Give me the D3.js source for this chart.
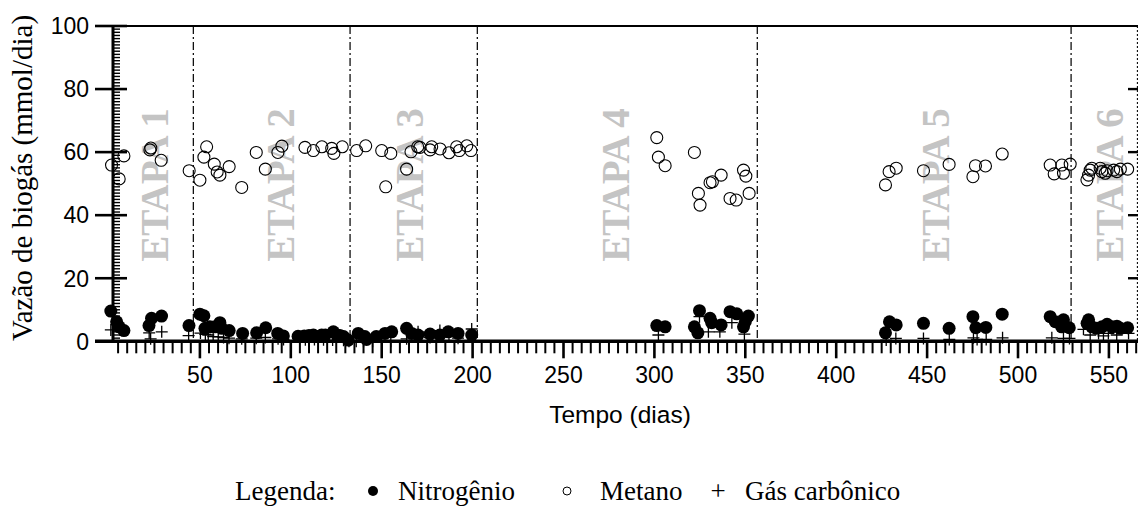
<!DOCTYPE html>
<html>
<head>
<meta charset="utf-8">
<script src="https://cdn.jsdelivr.net/npm/d3@7"></script>
<style>
  body { margin: 0; background: white; }
  svg { display: block; }
</style>
</head>
<body>
<svg width="1138" height="506"></svg>
<script>
// dias e vazões (mmol/dia)
let metano = [
  [1.4,55.9],[5.6,51.5],[8.2,58.8],[22.5,60.7],[23,61.3],[28.7,57.4],[44.1,54.1],[50,51.1],[52.2,58.4],[53.7,61.7],
  [57.9,56.2],[59.5,53.7],[61,52.7],[66.1,55.4],[73,48.8],[81,59.9],[86,54.6],[92.9,59.9],[95.1,61.9],[107.8,61.5],
  [112.4,60.5],[117.1,61.7],[122.5,61.2],[123.7,59.6],[128.3,61.7],[136.2,60.5],[141.2,62.0],[150,60.5],[152.2,49.0],[155,59.6],
  [163.7,54.6],[166.1,60.1],[169.8,61.7],[171,61.5],[176.6,60.7],[177.5,61.7],[182.1,61.0],[187,59.8],[191.2,61.7],[192.7,60.5],
  [196.8,62.0],[199.1,60.5],
  [301.3,64.6],[302.2,58.4],[305.9,55.7],[322,59.9],[324.2,46.9],[325.1,43.2],[330.6,50.3],[331.9,50.6],[336.7,52.7],[341.6,45.3],
  [345,44.8],[349,54.3],[350.3,52.4],[352.1,46.9],
  [427.1,49.6],[429.1,53.8],[433,54.9],[448,54.1],[462.1,56.1],[475.2,52.2],[476.6,55.7],[482.1,55.6],[491.3,59.4],[517.7,55.9],
  [519.9,53.1],[524.1,55.9],[525,53.3],[528.7,56.2],
  [537.9,51.2],[538.8,52.7],[539.7,54.3],[540.6,54.9],[545.2,54.9],[546.1,53.8],[548,53.3],[549,54.1],[552.6,54.3],[554.4,53.8],
  [556.3,54.6],[560.3,54.6]
]

let nitrogenio = [
  [1,9.6],[4.2,6.2],[5.6,4.6],[8.2,3.4],[22,5.0],[23.4,7.3],[28.9,8.0],[44,5.0],[50,8.6],[52.2,8.1],
  [52.8,4.1],[55.5,4.6],[58.3,4.6],[61,5.9],[62,4.1],[66.1,3.4],[73.5,2.5],[81.2,2.7],[86.2,4.3],[92.8,2.5],
  [95.9,1.7],[104,1.6],[107.4,1.7],[110,1.8],[112.4,2.0],[114,1.5],[117,2.0],[119,2.0],[123.4,3.0],[125.3,2.0],
  [127,1.8],[129,1.5],[131.6,0.4],[137.1,2.5],[140.7,1.5],[141.7,0.6],[147,1.5],[151.8,2.5],[155.5,3.0],[163.7,4.1],
  [166.5,2.5],[170,2.0],[176.6,2.3],[182,2.0],[186.6,3.0],[192,2.5],[199.5,2.0],
  [301.3,5.0],[305.9,4.6],[322,4.6],[323.9,2.7],[324.8,9.7],[330.6,7.3],[331.5,5.9],[336.7,5.2],[341.6,9.4],[345.3,8.7],
  [349,4.6],[350,6.2],[351.7,8.0],
  [427.1,2.7],[429.3,6.2],[433,5.2],[448,5.7],[462.1,4.1],[475.2,7.8],[476.8,4.3],[482.3,4.4],[491.3,8.6],[517.7,7.8],
  [520.5,6.2],[524,4.6],[525,6.8],[528.2,4.3],
  [538,5.7],[538.8,6.8],[540.6,4.6],[543.4,4.1],[546.2,4.6],[549,5.4],[551.7,4.6],[554.4,4.8],[556.3,4.1],[560.3,4.3]
]

let gas_carbonico = [
  [1,3.6],[22.1,2.7],[22.9,0.8],[29,3.0],[43.8,1.8],[50.3,2.6],[53,2.2],[54.6,2.0],[57.3,1.5],[60.1,1.4],
  [63,1.2],[66,1.0],[73,0.8],[81,1.0],[86,1.2],[93,0.8],[96,0.6],[108,0.5],[113,0.6],[118,0.5],
  [123,0.4],[129,0.3],[132,0],[136,0],[140,0],[145,0],[150,0],[155,0],[163.7,0.8],[170,3.0],
  [176.6,1.2],[182,3.4],[187,1.5],[192,1.0],[199.5,3.9],
  [302.2,2.0],[324.8,7.8],[329.7,3.0],[336,3.0],[342.6,5.9],[349.5,2.3],
  [427.5,0.4],[432.8,0.9],[448,0.9],[462.2,0.6],[475.5,1.1],[477.5,0.6],[482.5,0.6],[491.5,1.1],[518.6,1.1],
  [525,0.9],[528.3,0.9],
  [536,3.8],[539.7,2.0],[544.3,2.5],[547,1.7],[549.7,2.5],[554.3,2.0],[560.8,2.5]
]

// limites das etapas (dias) e posição dos rótulos
let limites_etapas = [46.4, 132.6, 202.6, 356.6, 529.2]
let fim_etapa_6 = 565.7
let etapas = ["ETAPA 1", "ETAPA 2", "ETAPA 3", "ETAPA 4", "ETAPA 5", "ETAPA 6"]
let centro_etapas = [24.8, 94, 165, 278.3, 454.3, 550]

let x_ticks = [50, 100, 150, 200, 250, 300, 350, 400, 450, 500, 550]
let y_ticks = [0, 20, 40, 60, 80, 100]

let svg = d3.select("svg")

let x = d3.scaleLinear().domain([2.2, 566]).range([113, 1138])
let y = d3.scaleLinear().domain([0, 100]).range([341.3, 26])

let sans = "'Liberation Sans', Arial, sans-serif"
let serif = "'Liberation Serif', 'Times New Roman', serif"

// rótulos das etapas, atrás de tudo
svg.selectAll(".etapa")
  .data(etapas)
  .enter()
  .append("text")
  .attr("transform", (d, i) => "translate(" + x(centro_etapas[i]) + "," + y(49.6) + ") rotate(-90)")
  .attr("text-anchor", "middle")
  .attr("dy", "0.35em")
  .attr("font-family", serif)
  .attr("font-weight", "bold")
  .attr("font-size", 39)
  .attr("fill", "#c4c4c4")
  .text(d => d)

// linhas verticais entre etapas
svg.selectAll(".limite")
  .data(limites_etapas)
  .enter()
  .append("line")
  .attr("x1", d => x(d))
  .attr("x2", d => x(d))
  .attr("y1", y(100))
  .attr("y2", y(0))
  .attr("stroke", "#111")
  .attr("stroke-width", 1.3)
  .attr("stroke-dasharray", "8,3,2,3")

svg.append("line")
  .attr("x1", x(fim_etapa_6))
  .attr("x2", x(fim_etapa_6))
  .attr("y1", y(100))
  .attr("y2", y(0))
  .attr("stroke", "#111")
  .attr("stroke-width", 1.2)
  .attr("stroke-dasharray", "2,2")

// eixo y: linha, ticks menores (1 em 1) e maiores
let y_minor = d3.range(1, 100).filter(v => v % 20 != 0)
svg.selectAll(".ymin")
  .data(y_minor)
  .enter()
  .append("line")
  .attr("x1", x(2.2))
  .attr("x2", x(2.2) + 7)
  .attr("y1", d => y(d))
  .attr("y2", d => y(d))
  .attr("stroke", "black")
  .attr("stroke-width", 1.4)

svg.selectAll(".ymaj")
  .data(y_ticks)
  .enter()
  .append("line")
  .attr("x1", 95)
  .attr("x2", 127)
  .attr("y1", d => y(d))
  .attr("y2", d => y(d))
  .attr("stroke", "black")
  .attr("stroke-width", 2.6)

// ticks do lado direito
svg.selectAll(".ydir")
  .data(y_ticks.filter(d => d > 0 && d < 100))
  .enter()
  .append("line")
  .attr("x1", x(566) - 10)
  .attr("x2", x(566))
  .attr("y1", d => y(d))
  .attr("y2", d => y(d))
  .attr("stroke", "black")
  .attr("stroke-width", 2.4)

svg.append("line")
  .attr("x1", x(2.2))
  .attr("x2", x(2.2))
  .attr("y1", y(100))
  .attr("y2", y(0))
  .attr("stroke", "black")
  .attr("stroke-width", 3)

svg.append("line")
  .attr("x1", 95)
  .attr("x2", x(566))
  .attr("y1", y(100))
  .attr("y2", y(100))
  .attr("stroke", "black")
  .attr("stroke-width", 2.2)

svg.selectAll(".ylab")
  .data(y_ticks)
  .enter()
  .append("text")
  .attr("x", 89)
  .attr("y", d => y(d))
  .attr("dy", "0.36em")
  .attr("text-anchor", "end")
  .attr("font-family", sans)
  .attr("font-size", 23)
  .text(d => d)

// eixo x
let x_minor = d3.range(5, 566, 5).filter(v => v % 50 != 0)
svg.selectAll(".xmin")
  .data(x_minor)
  .enter()
  .append("line")
  .attr("x1", d => x(d))
  .attr("x2", d => x(d))
  .attr("y1", y(0))
  .attr("y2", y(0) + 12)
  .attr("stroke", "black")
  .attr("stroke-width", 2)

svg.selectAll(".xmaj")
  .data(x_ticks)
  .enter()
  .append("line")
  .attr("x1", d => x(d))
  .attr("x2", d => x(d))
  .attr("y1", y(0))
  .attr("y2", y(0) + 17)
  .attr("stroke", "black")
  .attr("stroke-width", 2.6)

svg.append("line")
  .attr("x1", 95)
  .attr("x2", x(566))
  .attr("y1", y(0))
  .attr("y2", y(0))
  .attr("stroke", "black")
  .attr("stroke-width", 3.5)

svg.selectAll(".xlab")
  .data(x_ticks)
  .enter()
  .append("text")
  .attr("x", d => x(d))
  .attr("y", 383)
  .attr("text-anchor", "middle")
  .attr("font-family", sans)
  .attr("font-size", 23)
  .text(d => d)

// títulos dos eixos
svg.append("text")
  .attr("x", 620)
  .attr("y", 423)
  .attr("text-anchor", "middle")
  .attr("font-family", sans)
  .attr("font-size", 24.5)
  .text("Tempo (dias)")

svg.append("text")
  .attr("transform", "translate(32,178) rotate(-90)")
  .attr("text-anchor", "middle")
  .attr("font-family", serif)
  .attr("font-size", 29)
  .text("Vazão de biogás (mmol/dia)")

// pontos: gás carbônico (+), nitrogênio (cheio), metano (vazio)
svg.selectAll(".co2")
  .data(gas_carbonico)
  .enter()
  .append("path")
  .attr("d", d => "M" + (x(d[0]) - 6) + "," + y(d[1]) + "h12M" + x(d[0]) + "," + (y(d[1]) - 6) + "v12")
  .attr("stroke", "black")
  .attr("stroke-width", 1.3)
  .attr("fill", "none")

svg.selectAll(".n2")
  .data(nitrogenio)
  .enter()
  .append("circle")
  .attr("cx", d => x(d[0]))
  .attr("cy", d => y(d[1]))
  .attr("r", 6.5)
  .attr("fill", "black")

svg.selectAll(".ch4")
  .data(metano)
  .enter()
  .append("circle")
  .attr("cx", d => x(d[0]))
  .attr("cy", d => y(d[1]))
  .attr("r", 6)
  .attr("fill", "none")
  .attr("stroke", "black")
  .attr("stroke-width", 1.1)

// legenda
let leg = svg.append("g")
  .attr("font-family", serif)
  .attr("font-size", 27)
leg.append("text").attr("x", 235).attr("y", 500).text("Legenda:")
leg.append("circle").attr("cx", 373).attr("cy", 491).attr("r", 5).attr("fill", "black")
leg.append("text").attr("x", 398).attr("y", 500).text("Nitrogênio")
leg.append("circle").attr("cx", 567).attr("cy", 491).attr("r", 4).attr("fill", "none").attr("stroke", "black").attr("stroke-width", 1)
leg.append("text").attr("x", 600).attr("y", 500).text("Metano")
leg.append("text").attr("x", 718).attr("y", 500).attr("text-anchor", "middle").text("+")
leg.append("text").attr("x", 745).attr("y", 500).text("Gás carbônico")
</script>
</body>
</html>
